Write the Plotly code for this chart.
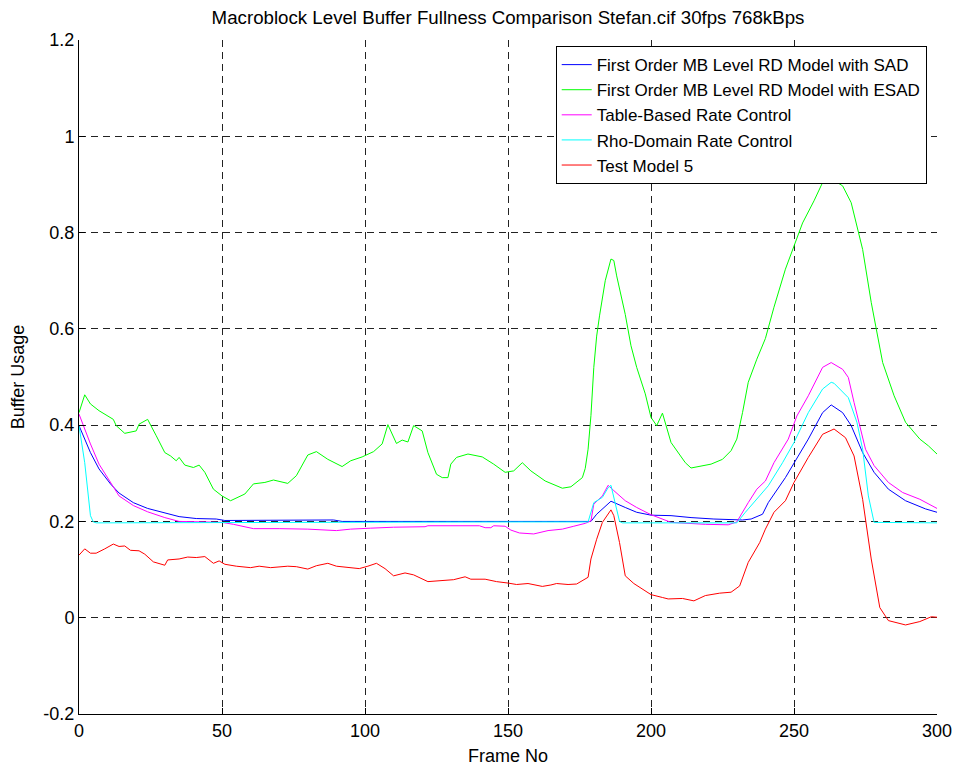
import plotly.graph_objects as go

# ---------------- data ----------------
sad_frames = [0, 4, 7, 11, 14, 19, 24, 30, 35, 41, 48, 51, 70, 89, 92, 120, 150, 179, 181, 186, 191, 195,
              200, 207, 214, 222, 232, 235, 239, 241, 247, 250, 255, 260, 263, 267, 270, 274, 278, 283,
              289, 296, 300]
sad_values = [0.399, 0.343, 0.309, 0.278, 0.259, 0.239, 0.227, 0.217, 0.210, 0.206, 0.205, 0.202, 0.203,
              0.203, 0.200, 0.200, 0.200, 0.200, 0.215, 0.242, 0.229, 0.219, 0.213, 0.212, 0.208, 0.205,
              0.203, 0.205, 0.215, 0.239, 0.291, 0.322, 0.371, 0.426, 0.442, 0.426, 0.399, 0.343, 0.302,
              0.267, 0.243, 0.226, 0.219]

esad_frames = [0, 2, 4, 7, 12, 13, 16, 18, 20, 21, 24, 27, 30, 32, 34, 35, 37, 40, 42, 44, 47, 50, 53, 58,
               61, 65, 68, 73, 76, 80, 83, 87, 92, 95, 99, 103, 106, 108, 111, 113, 115, 117, 120, 122,
               125, 127, 129, 130, 132, 136, 141, 145, 149, 152, 155, 158, 163, 169, 172, 176, 177, 178,
               179, 180, 181, 182, 184, 186, 187, 188, 191, 193, 195, 198, 200, 202, 204, 207, 212, 214,
               218, 221, 225, 228, 230, 232, 234, 237, 240, 243, 247, 250, 253, 257, 260, 263, 267, 270,
               274, 277, 281, 285, 289, 294, 297, 300]
esad_values = [0.426, 0.463, 0.444, 0.430, 0.412, 0.399, 0.383, 0.385, 0.388, 0.402, 0.412, 0.378, 0.343,
               0.336, 0.326, 0.333, 0.317, 0.312, 0.317, 0.302, 0.267, 0.253, 0.243, 0.257, 0.278, 0.281,
               0.286, 0.279, 0.295, 0.338, 0.345, 0.329, 0.314, 0.326, 0.334, 0.345, 0.361, 0.401, 0.362,
               0.369, 0.365, 0.399, 0.388, 0.343, 0.298, 0.291, 0.291, 0.319, 0.333, 0.340, 0.334, 0.319,
               0.302, 0.305, 0.322, 0.305, 0.284, 0.269, 0.272, 0.291, 0.310, 0.350, 0.420, 0.520, 0.585,
               0.627, 0.700, 0.745, 0.742, 0.710, 0.630, 0.565, 0.520, 0.465, 0.416, 0.399, 0.425, 0.364,
               0.322, 0.311, 0.316, 0.319, 0.329, 0.347, 0.371, 0.426, 0.489, 0.537, 0.580, 0.645, 0.724,
               0.772, 0.820, 0.866, 0.904, 0.912, 0.897, 0.862, 0.765, 0.655, 0.530, 0.461, 0.406, 0.371,
               0.357, 0.340]

table_frames = [0, 4, 7, 11, 14, 19, 24, 30, 35, 44, 50, 54, 59, 61, 70, 80, 90, 95, 102, 110, 121, 122,
                140, 142, 144, 145, 149, 151, 154, 159, 164, 169, 173, 177, 179, 180, 183, 185, 187, 191,
                195, 200, 207, 219, 227, 230, 234, 237, 240, 243, 248, 251, 255, 260, 263, 267, 269, 271,
                275, 278, 283, 288, 294, 300]
table_values = [0.423, 0.361, 0.319, 0.280, 0.253, 0.233, 0.220, 0.208, 0.200, 0.199, 0.198, 0.194, 0.188,
                0.185, 0.185, 0.184, 0.181, 0.184, 0.186, 0.188, 0.189, 0.191, 0.191, 0.187, 0.187, 0.191,
                0.190, 0.182, 0.176, 0.174, 0.181, 0.184, 0.190, 0.196, 0.201, 0.236, 0.253, 0.275, 0.264,
                0.243, 0.229, 0.214, 0.198, 0.194, 0.193, 0.199, 0.239, 0.267, 0.284, 0.322, 0.371, 0.419,
                0.461, 0.520, 0.530, 0.516, 0.499, 0.447, 0.350, 0.316, 0.281, 0.260, 0.246, 0.227]

rho_frames = [0, 2, 4, 5, 6, 50, 100, 150, 178, 180, 183, 185, 186, 187, 188, 189, 190, 230, 233, 236,
              241, 246, 250, 255, 260, 263, 264, 269, 272, 274, 276, 278, 300]
rho_values = [0.399, 0.322, 0.212, 0.199, 0.197, 0.198, 0.199, 0.199, 0.199, 0.239, 0.250, 0.270, 0.275,
              0.250, 0.220, 0.200, 0.197, 0.197, 0.219, 0.239, 0.274, 0.322, 0.364, 0.426, 0.475, 0.489,
              0.487, 0.457, 0.406, 0.350, 0.253, 0.198, 0.197]

tm5_frames = [0, 2, 4, 6, 9, 12, 14, 16, 18, 21, 23, 26, 30, 31, 35, 38, 41, 44, 47, 49, 51, 55, 60, 63,
              67, 73, 76, 80, 83, 87, 90, 95, 98, 101, 104, 107, 110, 114, 117, 122, 127, 131, 135, 137,
              142, 146, 150, 153, 157, 162, 165, 167, 171, 174, 178, 179, 181, 183, 186, 187, 189, 191,
              194, 197, 200, 204, 206, 211, 215, 219, 224, 228, 231, 234, 238, 240, 243, 247, 250, 255,
              260, 264, 268, 271, 274, 277, 280, 283, 289, 294, 298, 300]
tm5_values = [0.130, 0.143, 0.134, 0.134, 0.143, 0.153, 0.148, 0.149, 0.140, 0.139, 0.132, 0.116, 0.109,
              0.120, 0.122, 0.126, 0.125, 0.127, 0.113, 0.118, 0.111, 0.107, 0.104, 0.107, 0.104, 0.107,
              0.106, 0.101, 0.108, 0.113, 0.107, 0.104, 0.102, 0.107, 0.113, 0.102, 0.087, 0.093, 0.089,
              0.075, 0.078, 0.079, 0.085, 0.080, 0.080, 0.075, 0.072, 0.069, 0.071, 0.065, 0.068, 0.071,
              0.069, 0.070, 0.084, 0.122, 0.163, 0.198, 0.224, 0.212, 0.156, 0.087, 0.071, 0.060, 0.048,
              0.042, 0.039, 0.040, 0.035, 0.046, 0.051, 0.053, 0.066, 0.115, 0.156, 0.184, 0.219, 0.243,
              0.281, 0.333, 0.381, 0.392, 0.374, 0.336, 0.246, 0.122, 0.021, -0.006, -0.015, -0.008,
              0.002, 0.001]

series_names = ["First Order MB Level RD Model with SAD",
                "First Order MB Level RD Model with ESAD",
                "Table-Based Rate Control",
                "Rho-Domain Rate Control",
                "Test Model 5"]
series_colors = ["#0000FF", "#00FF00", "#FF00FF", "#00FFFF", "#FF0000"]

x_ticks = [0, 50, 100, 150, 200, 250, 300]
y_ticks = [-0.2, 0, 0.2, 0.4, 0.6, 0.8, 1.0, 1.2]
y_tick_text = ["-0.2", "0", "0.2", "0.4", "0.6", "0.8", "1", "1.2"]

title_text = "Macroblock Level Buffer Fullness Comparison Stefan.cif 30fps 768kBps"

# ---------------- figure ----------------
# the page body has an 8px default margin, so the figure is 8px smaller and margins are shifted
FIG_W, FIG_H = 952, 761
FONT = "Liberation Sans, Arial, Helvetica, sans-serif"
fig = go.Figure()
all_series = [(sad_frames, sad_values), (esad_frames, esad_values), (table_frames, table_values),
              (rho_frames, rho_values), (tm5_frames, tm5_values)]
for (fx, fy), name, col in zip(all_series, series_names, series_colors):
    fig.add_trace(go.Scatter(x=fx, y=fy, mode="lines", name=name,
                             line=dict(color=col, width=1)))

axis_common = dict(
    showline=True, linecolor="black", linewidth=1,
    ticks="inside", ticklen=6, tickcolor="black", tickwidth=1,
    showgrid=True, gridcolor="#222222", gridwidth=1, griddash="7px,5px",
    zeroline=False, automargin=False,
    tickfont=dict(family=FONT, size=18, color="black"),
)

fig.update_layout(
    width=FIG_W, height=FIG_H, autosize=False,
    margin=dict(l=71, r=23, t=32, b=55),
    paper_bgcolor="white", plot_bgcolor="white",
    font=dict(family=FONT, size=18, color="black"),
    title=dict(text=title_text, x=0.5, xref="paper", xanchor="center",
               y=1 - 9 / FIG_H, yanchor="middle",
               font=dict(family=FONT, size=18.7, color="black")),
    xaxis=dict(range=[0, 300], tickvals=x_ticks,
               title=dict(text="Frame No", font=dict(family=FONT, size=18), standoff=9),
               **axis_common),
    yaxis=dict(range=[-0.2, 1.2], tickvals=y_ticks, ticktext=y_tick_text,
               title=dict(text="Buffer Usage", font=dict(family=FONT, size=18), standoff=14),
               **axis_common),
    legend=dict(x=0.988, xanchor="right", y=0.991, yanchor="top",
                bgcolor="white", bordercolor="black", borderwidth=1,
                font=dict(family=FONT, size=17, color="black"),
                itemwidth=30, tracegroupgap=0),
    showlegend=True,
)

fig.write_html("out.html")
